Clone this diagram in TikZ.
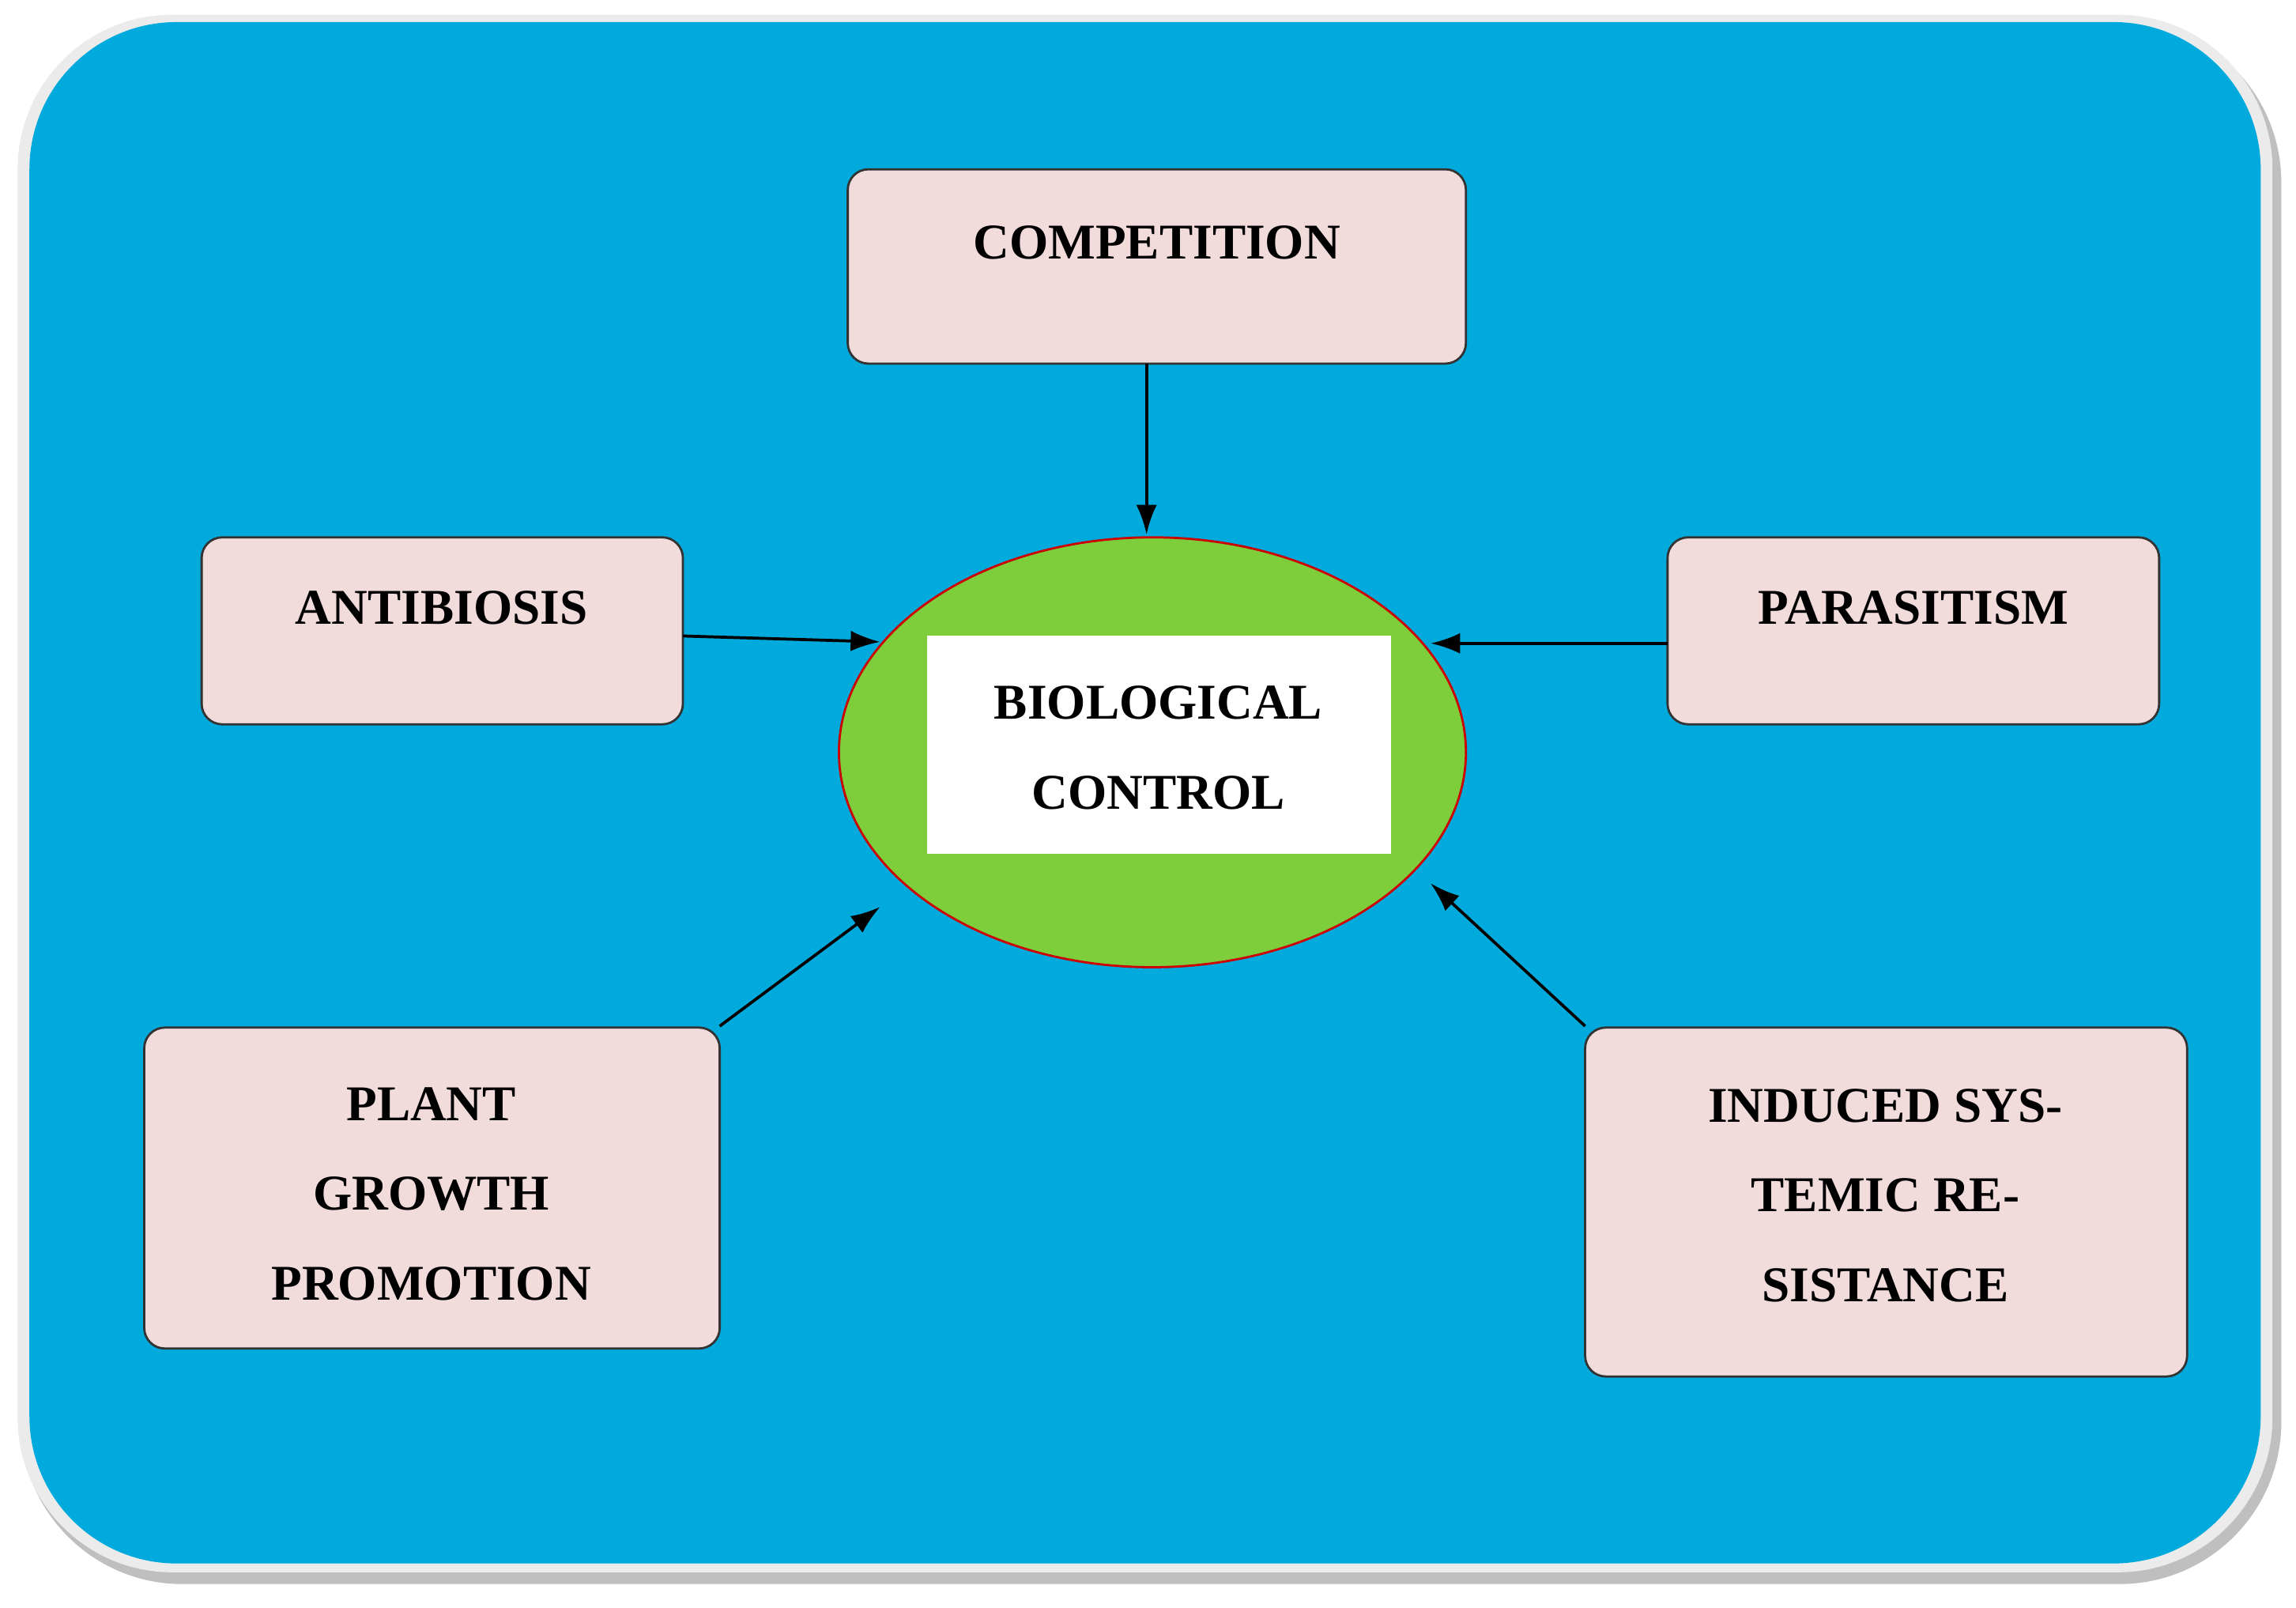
\documentclass[tikz,border=0pt]{standalone}
\usepackage{fontspec}
\setmainfont{Liberation Serif}
\usetikzlibrary{arrows.meta,shapes.geometric}
\definecolor{bg}{HTML}{00AADD}
\definecolor{boxc}{HTML}{F2DCDB}
\definecolor{grn}{HTML}{7DCE3A}
\begin{document}
\begin{tikzpicture}[x=1pt,y=-1pt,
  box/.style={draw=black!80,line width=1.5pt,fill=boxc,rounded corners=14pt},
  lab/.style={font=\fontsize{34}{61}\selectfont\bfseries,align=center,inner sep=0pt},
  arr/.style={-{Latex[length=20pt,width=14pt]},line width=2pt}]
\useasboundingbox (0,0) rectangle (1560,1092);
\fill[white] (0,0) rectangle (1560,1092);
\fill[black!25,rounded corners=110pt] (14,14) rectangle (1550,1076);
\fill[black!8,rounded corners=105pt] (12,10) rectangle (1544,1068);
\fill[bg,rounded corners=100pt] (20,15) rectangle (1536,1062);
\draw[box] (576,115) rectangle (996,247);
\node[lab] (comp) at (786,165) {COMPETITION};
\coordinate (compb) at (779,247);
\draw[box] (137,365) rectangle (464,492);
\node[lab] (anti) at (300,413) {ANTIBIOSIS};
\coordinate (antir) at (464,432);
\draw[box] (1133,365) rectangle (1467,492);
\node[lab] (para) at (1300,413) {PARASITISM};
\coordinate (paral) at (1133,437);
\draw[box] (98,698) rectangle (489,916);
\node[lab] (plant) at (293,811) {PLANT\\GROWTH\\PROMOTION};
\coordinate (plantc) at (489,697);
\draw[box] (1077,698) rectangle (1486,935);
\node[lab] (isr) at (1281,812) {INDUCED SYS-\\TEMIC RE-\\SISTANCE};
\coordinate (isrc) at (1077,697);
\node[draw=red!80!black,line width=1.5pt,fill=grn,ellipse,minimum width=426pt,minimum height=292pt,inner sep=0pt] (bio) at (783,511) {};
\fill[white] (630,432) rectangle (945,580);
\node[lab] (biot) at (787,508) {BIOLOGICAL\\CONTROL};
\coordinate (t1) at (779,363);
\coordinate (t2) at (598,436);
\coordinate (t3) at (972,437);
\coordinate (t4) at (598,616);
\coordinate (t5) at (972,600);
\draw[arr] (compb) -- (t1);
\draw[arr] (antir) -- (t2);
\draw[arr] (paral) -- (t3);
\draw[arr] (plantc) -- (t4);
\draw[arr] (isrc) -- (t5);
\end{tikzpicture}
\end{document}
